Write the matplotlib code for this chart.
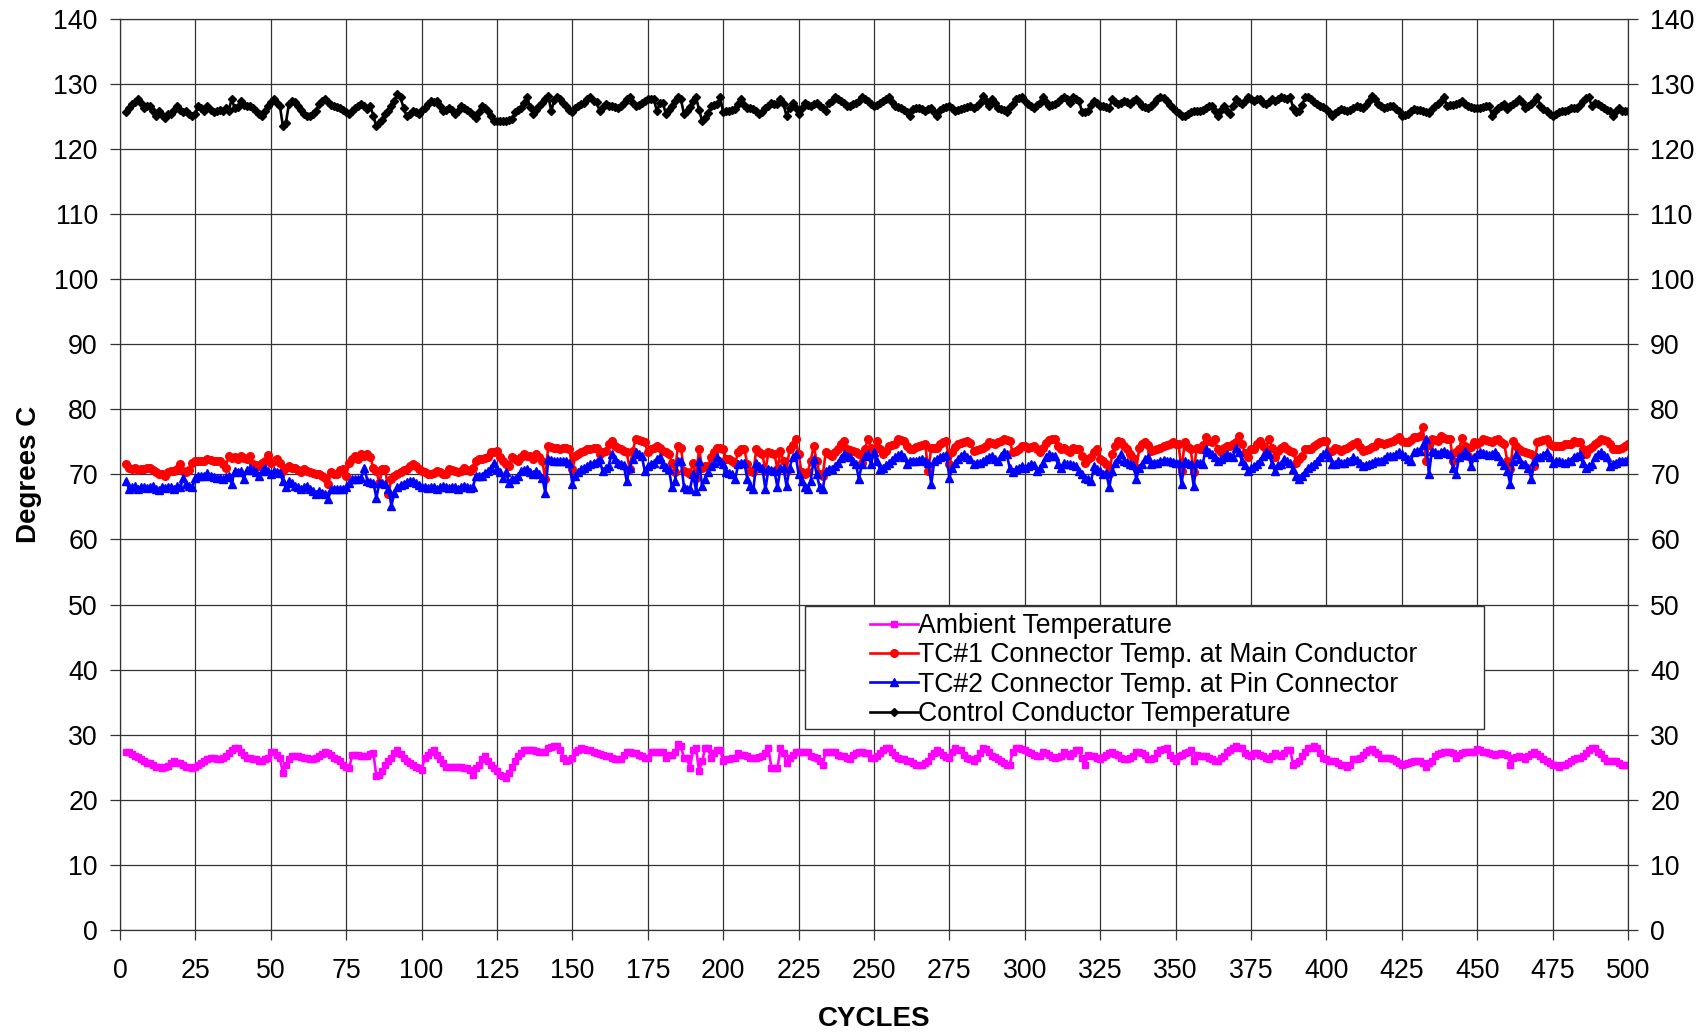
# Temperature cycling test: ambient, connector and control conductor temps per cycle
import numpy as np
import matplotlib
import matplotlib.pyplot as plt
from matplotlib.patches import Rectangle
matplotlib.use('Agg')

plt.rcParams['font.family'] = ['Liberation Sans', 'DejaVu Sans']

# cycles 2..500, rows follow the 25-cycle grid (first row 2-25)
cycles = np.arange(2, 501)

ambient = [
    27.4, 27.4, 27.0, 26.7, 26.5, 26.2, 26.0, 25.7, 25.6, 25.3, 25.1, 25.0, 24.9, 25.0, 25.2, 25.6, 25.9, 25.7, 25.6, 25.4, 25.1, 25.0, 24.9, 25.0,
    25.4, 25.6, 25.9, 26.2, 26.4, 26.4, 26.2, 26.2, 26.4, 26.7, 27.2, 27.7, 28.0, 27.9, 27.4, 26.9, 26.4, 26.4, 26.2, 26.2, 25.9, 25.9, 26.2, 26.4, 27.4,
    27.4, 26.9, 26.4, 24.1, 25.4, 26.2, 26.7, 26.7, 26.7, 26.6, 26.4, 26.4, 26.2, 26.2, 26.4, 26.7, 27.0, 27.4, 27.2, 26.9, 26.4, 26.2, 25.9, 25.4, 25.1,
    24.9, 26.9, 26.9, 26.9, 26.7, 26.7, 26.7, 27.0, 27.2, 23.6, 23.8, 24.4, 25.4, 26.0, 26.4, 27.2, 27.7, 27.0, 26.4, 25.9, 25.6, 25.3, 25.1, 24.9, 24.6,
    26.4, 26.9, 27.4, 27.7, 26.9, 26.2, 25.6, 25.1, 25.1, 25.1, 25.1, 25.1, 25.1, 24.9, 24.9, 24.6, 23.8, 24.9, 25.4, 26.2, 26.7, 25.9, 25.4, 24.9, 24.4,
    23.8, 23.6, 23.3, 24.1, 25.0, 25.9, 26.7, 27.2, 27.7, 27.7, 27.7, 27.6, 27.5, 27.4, 27.4, 27.4, 27.9, 28.1, 28.2, 28.2, 27.7, 26.4, 25.9, 26.1, 26.4,
    27.4, 27.7, 27.9, 27.8, 27.7, 27.7, 27.4, 27.2, 27.0, 26.9, 26.8, 26.7, 26.4, 26.2, 26.2, 26.2, 26.9, 27.4, 27.4, 27.2, 27.2, 26.9, 26.7, 26.4, 26.4,
    27.4, 27.4, 27.4, 27.4, 27.4, 26.4, 26.9, 26.9, 27.4, 28.5, 28.2, 26.4, 26.4, 24.9, 27.7, 27.9, 24.4, 25.9, 27.9, 27.9, 26.4, 27.2, 27.7, 27.7, 25.9,
    26.2, 26.2, 26.4, 26.4, 27.2, 26.9, 26.9, 26.7, 26.4, 26.4, 26.4, 26.5, 26.7, 27.2, 27.9, 24.9, 24.9, 24.9, 27.9, 27.2, 25.6, 26.4, 26.9, 27.4, 27.4,
    27.4, 27.4, 27.4, 26.7, 26.6, 26.4, 25.9, 25.4, 27.4, 27.4, 27.4, 27.4, 26.9, 26.7, 26.7, 26.4, 26.2, 26.9, 27.2, 27.4, 27.4, 27.2, 27.2, 26.4, 26.4,
    26.7, 27.2, 27.7, 27.9, 27.9, 27.4, 26.9, 26.4, 26.3, 26.2, 26.0, 25.9, 25.6, 25.4, 25.4, 25.4, 25.6, 25.9, 26.7, 27.2, 27.7, 27.4, 26.9, 26.6, 26.4,
    27.4, 27.9, 27.7, 27.7, 26.9, 26.4, 26.2, 25.9, 26.4, 27.2, 27.9, 27.8, 27.4, 26.7, 26.5, 26.2, 26.0, 25.6, 25.4, 25.4, 27.4, 27.9, 27.9, 27.8, 27.6,
    27.4, 27.2, 26.9, 26.8, 26.7, 27.4, 27.2, 26.9, 26.6, 26.4, 26.6, 26.7, 27.4, 27.0, 26.7, 27.2, 27.7, 27.7, 26.4, 25.4, 26.9, 26.8, 26.7, 26.4, 26.2,
    26.5, 26.9, 27.2, 27.4, 27.1, 26.9, 26.4, 26.3, 26.2, 26.4, 26.7, 27.4, 27.3, 27.2, 26.9, 26.2, 26.3, 26.4, 27.2, 27.7, 27.8, 27.9, 26.9, 26.4, 25.9,
    26.7, 26.9, 27.2, 27.4, 27.7, 25.9, 26.9, 26.8, 26.7, 26.7, 26.4, 26.2, 26.0, 25.9, 26.4, 26.7, 27.4, 27.7, 27.9, 28.2, 28.0, 27.9, 27.2, 26.9, 26.7,
    27.2, 27.2, 26.9, 26.7, 26.4, 26.2, 26.7, 27.2, 26.9, 26.7, 27.2, 27.7, 27.7, 25.4, 25.7, 25.9, 26.7, 27.4, 27.9, 28.0, 28.2, 27.9, 27.2, 26.4, 26.2,
    25.9, 25.9, 25.9, 25.7, 25.4, 25.3, 25.1, 25.4, 26.2, 26.3, 26.4, 26.9, 27.4, 27.6, 27.8, 27.4, 27.0, 26.4, 26.4, 26.4, 26.4, 26.2, 25.9, 25.6, 25.4,
    25.5, 25.6, 25.8, 25.9, 25.9, 25.9, 25.6, 25.1, 25.6, 25.9, 26.7, 27.0, 27.2, 27.3, 27.4, 27.3, 27.2, 26.4, 26.9, 27.2, 27.3, 27.4, 27.4, 27.4, 27.8,
    27.6, 27.4, 27.3, 27.2, 27.0, 26.9, 27.0, 27.2, 27.0, 26.9, 25.4, 26.4, 26.6, 26.7, 26.5, 26.2, 26.7, 27.0, 27.4, 27.0, 26.7, 26.2, 25.9, 25.6, 25.4,
    25.3, 25.1, 25.3, 25.4, 25.7, 25.9, 26.2, 26.4, 26.4, 26.7, 27.2, 27.7, 27.9, 27.9, 27.4, 27.0, 26.4, 25.9, 25.9, 25.9, 25.9, 25.6, 25.4, 25.4, 25.4,
]

tc1_main = [
    71.6, 71.0, 70.8, 70.9, 70.7, 70.8, 70.8, 70.9, 71.0, 70.6, 70.3, 70.1, 70.0, 69.8, 70.3, 70.5, 70.5, 70.8, 71.6, 70.5, 70.4, 70.6, 71.8, 72.0,
    72.0, 72.1, 72.0, 72.4, 72.2, 72.1, 72.0, 72.1, 71.6, 71.0, 72.8, 72.5, 72.6, 72.4, 72.8, 72.5, 72.3, 72.8, 71.6, 71.5, 71.3, 71.8, 72.0, 72.9, 71.8,
    72.1, 72.3, 71.8, 70.5, 70.9, 71.3, 71.0, 71.0, 70.6, 70.3, 70.8, 70.5, 70.3, 70.2, 70.0, 70.0, 69.8, 69.5, 68.5, 70.3, 70.0, 70.0, 70.6, 70.8, 69.8,
    71.8, 72.3, 72.8, 72.3, 73.1, 72.8, 73.1, 72.6, 71.0, 70.5, 68.7, 70.8, 70.8, 67.0, 69.3, 69.8, 70.0, 70.3, 70.6, 70.8, 71.3, 71.6, 71.3, 70.8, 70.5,
    70.3, 70.1, 70.0, 70.2, 70.5, 70.3, 70.0, 70.0, 70.8, 70.6, 70.5, 70.4, 70.5, 71.0, 70.6, 70.5, 71.0, 72.1, 72.3, 72.3, 72.5, 72.6, 73.4, 73.5, 73.6,
    72.6, 72.0, 71.6, 71.3, 72.6, 72.3, 72.1, 72.6, 73.1, 72.8, 72.8, 72.3, 73.1, 72.6, 72.1, 69.3, 74.4, 74.2, 74.1, 74.1, 73.9, 74.0, 74.1, 73.9, 70.8,
    72.8, 73.1, 73.4, 73.6, 73.9, 73.9, 74.0, 74.1, 73.1, 73.4, 73.6, 74.6, 75.1, 74.4, 74.0, 73.9, 73.6, 73.4, 70.8, 73.6, 75.4, 75.2, 75.1, 74.9, 73.4,
    73.9, 74.1, 74.4, 74.0, 73.6, 73.4, 73.1, 71.8, 70.3, 74.4, 74.1, 70.5, 70.3, 70.0, 71.8, 69.5, 73.9, 71.0, 71.3, 71.3, 72.6, 73.4, 74.1, 74.0, 73.9,
    72.3, 72.3, 72.0, 71.8, 73.4, 73.9, 73.9, 71.6, 70.5, 70.3, 73.9, 73.4, 73.1, 70.5, 73.4, 73.2, 73.1, 70.8, 73.6, 72.0, 70.5, 73.9, 74.5, 75.4, 73.1,
    70.3, 70.0, 70.3, 72.0, 74.4, 72.0, 70.0, 69.8, 73.4, 73.1, 72.8, 73.4, 73.9, 74.6, 75.1, 73.9, 73.8, 73.6, 73.4, 73.1, 71.8, 73.9, 75.4, 74.1, 73.9,
    75.1, 73.9, 73.1, 73.6, 74.4, 74.5, 74.6, 75.4, 75.2, 75.1, 74.3, 73.9, 73.9, 74.2, 74.4, 74.5, 74.6, 70.5, 74.1, 74.1, 74.1, 74.6, 74.9, 75.1, 71.6,
    73.4, 74.2, 74.6, 74.8, 74.9, 75.1, 74.8, 73.6, 73.8, 73.9, 74.1, 74.4, 74.9, 74.8, 74.6, 74.9, 75.1, 75.4, 75.2, 75.1, 73.4, 73.6, 73.9, 74.3, 74.4,
    74.1, 74.2, 74.4, 73.9, 73.4, 74.1, 74.8, 75.2, 75.4, 75.4, 74.4, 73.9, 74.1, 73.8, 73.4, 74.1, 73.9, 73.9, 72.8, 71.8, 72.3, 72.6, 73.4, 73.9, 72.3,
    72.0, 71.6, 70.0, 73.1, 74.4, 75.1, 74.9, 74.4, 73.9, 73.1, 72.5, 71.0, 74.0, 74.6, 74.9, 74.5, 73.6, 73.8, 73.9, 74.1, 74.3, 74.5, 74.6, 74.9, 74.6,
    74.6, 70.5, 74.9, 74.2, 73.9, 70.3, 74.1, 73.9, 74.5, 75.7, 75.1, 74.9, 75.4, 73.9, 73.4, 74.1, 74.3, 74.4, 74.6, 75.0, 75.9, 74.6, 73.2, 72.6, 73.9,
    73.9, 74.6, 75.1, 74.4, 73.9, 75.4, 74.1, 72.6, 73.6, 74.1, 74.4, 73.9, 73.6, 73.4, 71.8, 72.3, 72.8, 73.9, 73.9, 73.9, 74.4, 74.6, 74.9, 75.1, 75.1,
    73.4, 73.6, 74.1, 73.9, 73.6, 73.9, 74.1, 74.4, 74.6, 74.9, 74.2, 73.6, 73.8, 73.9, 74.2, 74.4, 74.9, 74.8, 74.6, 74.8, 74.9, 75.1, 75.4, 75.7, 75.1,
    75.0, 74.9, 75.2, 75.7, 75.7, 75.9, 77.2, 72.1, 74.5, 75.4, 75.2, 75.1, 75.9, 75.6, 75.4, 75.4, 72.1, 73.4, 73.9, 75.6, 74.4, 72.8, 74.2, 74.9, 74.6,
    75.0, 75.4, 75.2, 75.1, 74.9, 75.2, 75.4, 74.9, 74.6, 72.1, 70.8, 75.1, 74.4, 73.9, 73.6, 73.4, 73.2, 73.1, 71.3, 74.9, 75.1, 75.2, 75.4, 74.6, 74.4,
    74.4, 74.4, 74.4, 74.6, 74.6, 74.6, 75.1, 74.9, 74.9, 73.9, 73.1, 73.9, 74.2, 74.6, 75.0, 75.4, 75.2, 75.1, 74.6, 73.9, 73.9, 73.9, 74.1, 74.3, 74.6,
]

tc2_pin = [
    69.0, 67.7, 68.0, 68.2, 67.8, 68.0, 68.1, 67.9, 68.0, 68.2, 67.7, 67.6, 68.0, 67.9, 68.1, 68.0, 67.8, 68.2, 68.0, 69.5, 68.5, 68.2, 68.0, 69.5,
    69.8, 69.8, 69.7, 70.2, 69.8, 69.6, 69.5, 69.4, 69.3, 69.6, 69.8, 68.5, 70.5, 70.4, 70.5, 69.3, 70.6, 71.0, 70.6, 70.3, 69.8, 70.5, 71.0, 70.5, 70.0,
    70.5, 70.4, 70.2, 69.0, 68.0, 69.0, 68.6, 68.2, 68.0, 67.7, 68.0, 68.2, 67.8, 67.5, 67.0, 67.5, 67.2, 67.0, 66.2, 67.7, 67.7, 67.7, 67.8, 67.7, 68.0,
    68.7, 69.3, 69.3, 69.3, 69.5, 71.0, 69.0, 68.8, 68.7, 66.4, 68.7, 68.7, 68.5, 67.7, 65.2, 67.2, 68.0, 68.3, 68.5, 68.8, 69.0, 69.0, 68.7, 68.3, 68.0,
    68.0, 67.9, 68.1, 68.0, 67.8, 68.0, 68.2, 68.0, 67.9, 68.1, 68.0, 67.8, 68.0, 68.2, 68.0, 67.9, 68.0, 69.8, 69.8, 69.8, 70.2, 70.5, 71.0, 71.8, 70.8,
    70.3, 69.5, 70.3, 68.7, 69.3, 69.3, 69.8, 70.5, 70.6, 70.8, 70.3, 70.0, 70.5, 70.0, 69.5, 67.2, 72.3, 72.2, 72.1, 72.1, 72.0, 72.1, 72.0, 71.8, 68.5,
    69.8, 70.3, 70.8, 71.0, 71.3, 71.6, 71.8, 71.9, 72.3, 70.5, 71.0, 71.3, 73.1, 72.3, 71.8, 71.6, 71.4, 69.0, 71.0, 72.3, 73.4, 73.1, 72.8, 70.5, 71.3,
    71.6, 71.8, 72.3, 72.6, 71.6, 71.1, 70.8, 68.0, 69.0, 72.1, 72.0, 68.0, 67.8, 67.7, 70.0, 67.5, 72.1, 68.2, 69.3, 70.3, 71.3, 71.8, 72.6, 72.0, 71.6,
    70.3, 70.2, 70.0, 69.3, 71.6, 71.8, 71.8, 69.3, 68.2, 67.7, 71.8, 71.3, 71.0, 67.7, 70.8, 70.6, 70.5, 68.0, 71.0, 71.0, 68.2, 71.0, 72.6, 73.1, 70.0,
    69.0, 68.0, 67.7, 69.0, 72.3, 70.0, 68.0, 67.7, 70.5, 70.8, 70.8, 71.3, 71.8, 72.5, 73.1, 72.8, 72.6, 72.1, 71.6, 69.3, 71.6, 72.8, 73.1, 71.6, 73.4,
    72.0, 70.8, 71.0, 71.4, 71.8, 72.2, 72.6, 72.9, 73.1, 72.6, 71.6, 72.0, 72.1, 72.1, 72.2, 72.3, 72.1, 71.8, 68.5, 72.1, 72.3, 72.6, 72.8, 73.0, 69.5,
    71.0, 71.8, 72.3, 72.8, 73.1, 72.6, 72.3, 71.6, 71.7, 71.8, 72.1, 72.3, 72.6, 72.8, 72.3, 72.1, 72.8, 73.4, 73.1, 71.0, 70.3, 70.8, 71.0, 71.3, 71.0,
    71.2, 71.6, 71.4, 70.5, 71.0, 71.8, 72.6, 73.1, 72.8, 72.8, 71.6, 71.0, 71.8, 71.6, 71.6, 71.4, 71.3, 70.5, 70.0, 69.5, 69.3, 69.0, 71.3, 70.8, 70.5,
    70.0, 70.2, 68.0, 70.5, 71.8, 72.4, 73.1, 72.1, 71.9, 71.6, 71.4, 69.3, 71.0, 71.6, 72.4, 72.6, 71.6, 71.7, 71.8, 72.1, 72.2, 72.0, 72.1, 71.9, 71.8,
    71.8, 68.5, 72.1, 71.8, 71.6, 68.2, 71.8, 71.7, 71.6, 73.9, 73.4, 73.1, 72.6, 72.1, 72.3, 72.6, 73.1, 72.8, 72.6, 74.1, 73.4, 72.1, 71.5, 70.5, 70.9,
    71.3, 71.6, 72.1, 72.8, 73.4, 73.1, 71.6, 70.5, 71.4, 71.6, 72.3, 72.0, 71.8, 70.8, 69.8, 69.3, 69.8, 70.3, 70.9, 71.2, 71.6, 72.1, 72.6, 73.1, 73.4,
    72.6, 71.6, 71.6, 72.1, 71.8, 71.8, 72.0, 72.1, 72.6, 72.2, 71.8, 71.3, 71.4, 71.6, 71.8, 72.1, 72.1, 72.1, 72.4, 72.8, 72.8, 72.8, 73.1, 73.4, 73.1,
    72.8, 72.4, 72.1, 73.4, 73.6, 73.6, 74.5, 75.4, 70.0, 73.6, 73.4, 73.1, 73.4, 73.6, 73.3, 73.1, 71.0, 70.0, 72.6, 73.0, 73.6, 73.0, 71.3, 72.6, 73.1,
    73.4, 73.3, 73.1, 72.9, 73.1, 73.4, 72.8, 72.1, 71.5, 70.5, 68.5, 72.0, 73.1, 72.3, 71.6, 71.6, 71.0, 69.3, 72.0, 72.6, 72.6, 73.0, 73.4, 72.6, 71.8,
    72.1, 72.1, 71.9, 71.8, 72.0, 72.1, 72.6, 72.8, 73.1, 71.8, 71.0, 71.3, 71.6, 72.6, 73.1, 73.4, 73.0, 72.6, 71.3, 71.6, 71.8, 72.1, 72.1, 72.1, 72.3,
]

control = [
    125.6, 126.3, 126.9, 127.2, 127.6, 127.0, 126.3, 126.6, 126.6, 125.8, 125.0, 125.8, 125.2, 124.8, 125.3, 125.3, 126.0, 126.6, 126.0, 125.6, 125.8, 125.3, 125.0, 125.3,
    126.6, 126.2, 125.8, 126.6, 126.0, 125.6, 125.8, 126.0, 125.8, 126.2, 125.8, 127.6, 126.3, 126.4, 127.4, 126.8, 126.6, 126.6, 126.3, 125.8, 125.3, 125.0, 125.8, 126.6, 127.2,
    127.6, 127.0, 126.6, 123.5, 124.0, 126.9, 127.4, 127.2, 126.6, 126.0, 125.3, 125.0, 125.0, 125.4, 125.8, 126.9, 127.4, 127.6, 127.2, 126.8, 126.6, 126.4, 126.3, 126.0, 125.6,
    125.3, 125.8, 126.3, 126.6, 126.9, 126.6, 126.1, 126.6, 125.0, 123.5, 124.0, 124.5, 125.3, 125.8, 126.6, 127.4, 128.4, 127.9, 126.3, 125.0, 125.4, 125.8, 125.6, 125.3, 125.9,
    126.3, 126.9, 127.4, 127.2, 127.4, 126.6, 125.8, 126.0, 126.3, 125.9, 125.3, 125.8, 126.6, 126.3, 126.0, 125.6, 125.2, 124.8, 125.6, 126.6, 126.2, 125.8, 125.0, 124.3, 124.3,
    124.3, 124.3, 124.3, 124.4, 124.6, 125.6, 126.0, 126.3, 127.0, 127.9, 126.4, 125.3, 126.0, 126.6, 127.0, 127.6, 128.1, 125.8, 127.5, 127.9, 127.6, 127.0, 126.6, 126.0, 125.6,
    126.2, 126.6, 126.9, 127.1, 127.6, 127.9, 127.4, 127.2, 125.8, 126.4, 126.9, 126.6, 126.6, 126.4, 126.3, 126.6, 127.1, 127.6, 127.9, 127.0, 126.6, 126.8, 127.1, 127.4, 127.6,
    127.6, 127.6, 125.8, 127.0, 127.1, 125.3, 126.0, 126.6, 127.4, 127.9, 127.6, 125.3, 125.8, 126.4, 127.4, 127.9, 126.0, 124.3, 124.8, 125.5, 126.6, 126.8, 126.9, 127.9, 125.6,
    125.8, 125.8, 126.0, 126.1, 126.9, 127.6, 126.8, 126.3, 126.2, 126.1, 125.8, 125.4, 125.6, 126.3, 126.6, 127.1, 126.9, 126.9, 127.6, 126.9, 125.0, 126.3, 127.1, 126.3, 125.3,
    126.2, 127.1, 126.8, 126.6, 126.9, 127.1, 126.6, 126.3, 125.8, 127.1, 127.4, 127.9, 127.6, 127.4, 127.1, 126.6, 126.6, 126.9, 127.1, 127.4, 127.9, 127.6, 127.4, 126.9, 126.6,
    126.8, 127.1, 127.4, 127.6, 127.9, 127.2, 126.6, 126.4, 126.3, 126.0, 125.6, 125.0, 126.1, 126.2, 126.3, 126.1, 125.8, 126.1, 126.3, 125.6, 125.0, 125.9, 126.3, 126.4, 126.6,
    126.2, 125.8, 126.0, 126.1, 126.2, 126.4, 126.6, 126.3, 126.6, 127.1, 128.1, 127.4, 126.6, 127.6, 127.0, 126.3, 126.1, 125.9, 125.6, 126.4, 126.9, 127.6, 127.8, 127.9, 127.4,
    126.9, 126.6, 126.3, 126.8, 127.1, 127.9, 127.2, 126.6, 126.7, 126.9, 127.2, 127.6, 127.9, 127.6, 127.1, 127.9, 127.6, 127.4, 125.6, 125.7, 125.8, 126.8, 127.4, 127.0, 126.6,
    126.6, 126.4, 126.3, 127.6, 127.2, 126.9, 127.0, 127.4, 127.2, 126.9, 127.3, 127.6, 127.2, 126.6, 126.4, 126.3, 126.6, 127.1, 127.6, 127.9, 127.8, 127.4, 126.8, 126.3, 125.8,
    125.5, 125.0, 125.1, 125.3, 125.6, 125.8, 125.8, 125.8, 126.0, 126.3, 126.5, 126.6, 125.8, 125.0, 126.0, 126.6, 125.8, 125.3, 126.6, 127.6, 127.2, 126.9, 127.4, 127.9, 127.6,
    127.4, 127.6, 127.6, 127.1, 126.9, 127.2, 127.6, 127.4, 127.7, 127.9, 127.8, 127.6, 127.9, 126.3, 125.6, 125.8, 126.8, 127.9, 127.9, 127.6, 127.2, 126.9, 126.6, 126.4, 126.1,
    125.6, 125.0, 125.5, 125.8, 126.1, 125.9, 125.8, 125.9, 126.2, 126.6, 126.4, 126.3, 126.8, 127.4, 128.1, 127.6, 126.9, 126.6, 126.3, 126.4, 126.5, 126.6, 126.1, 125.8, 125.0,
    125.2, 125.3, 125.8, 126.1, 126.0, 125.9, 125.8, 125.6, 125.5, 126.1, 126.6, 126.9, 127.4, 127.9, 126.6, 126.7, 126.8, 126.9, 127.1, 127.4, 126.9, 126.6, 126.4, 126.3, 126.3,
    126.3, 126.4, 126.5, 126.6, 125.0, 125.8, 126.3, 126.6, 126.9, 126.1, 126.6, 126.9, 127.2, 127.6, 127.2, 126.3, 126.6, 126.9, 127.4, 127.9, 126.6, 126.1, 125.8, 125.4, 125.0,
    125.3, 125.6, 125.8, 125.8, 126.0, 126.3, 126.3, 126.3, 126.8, 127.4, 127.8, 127.9, 126.6, 127.0, 126.9, 126.6, 126.3, 126.0, 125.8, 125.0, 125.8, 126.3, 125.8, 125.8, 125.8,
]

labels = ["Ambient Temperature",
          "TC#1 Connector Temp. at Main Conductor",
          "TC#2 Connector Temp. at Pin Connector",
          "Control Conductor Temperature"]
x_ticks = np.arange(0, 501, 25)
y_ticks = np.arange(0, 141, 10)

fig = plt.figure(figsize=(17.05, 10.33), dpi=100)
ax = fig.add_axes([0.0704, 0.0997, 0.8844, 0.8823])

ax.plot(cycles, ambient, color='#FF00FF', lw=1.9, marker='s', ms=5, label=labels[0])
ax.plot(cycles, tc1_main, color='#FF0000', lw=1.9, marker='o', ms=5.5, label=labels[1])
ax.plot(cycles, tc2_pin, color='#0000FF', lw=1.9, marker='^', ms=6, label=labels[2])
ax.plot(cycles, control, color='black', lw=1.9, marker='D', ms=4.5, label=labels[3])

ax.set_xlim(0, 500)
ax.set_ylim(0, 140)
ax.set_xticks(x_ticks)
ax.set_yticks(y_ticks)
ax.grid(True, color='#333333', lw=0.9)
ax.set_axisbelow(True)
for s in ax.spines.values():
    s.set_color('#333333')
    s.set_linewidth(0.9)

ax.tick_params(axis='both', labelsize=19.3, length=7, width=0.9, color='#333333')
ax.tick_params(axis='y', right=True, labelright=True, pad=9)
ax.tick_params(axis='x', pad=13)

ax.set_xlabel("CYCLES", fontsize=20, fontweight='bold', labelpad=16)
ax.set_ylabel("Degrees C", fontsize=20, fontweight='bold', labelpad=8)

# legend box drawn separately so the handles can sit inset like the original
ax.add_patch(Rectangle((0.454, 0.2205), 0.4505, 0.135, transform=ax.transAxes,
                       facecolor='white', edgecolor='#333333', lw=1.0, zorder=4))
leg = ax.legend(loc='upper left', bbox_to_anchor=(0.4973, 0.348), frameon=False,
                fontsize=19.2, handlelength=1.8, handletextpad=0.02, labelspacing=0.13,
                borderpad=0, borderaxespad=0)
leg.set_zorder(5)

fig.savefig('out.png', dpi=100)
